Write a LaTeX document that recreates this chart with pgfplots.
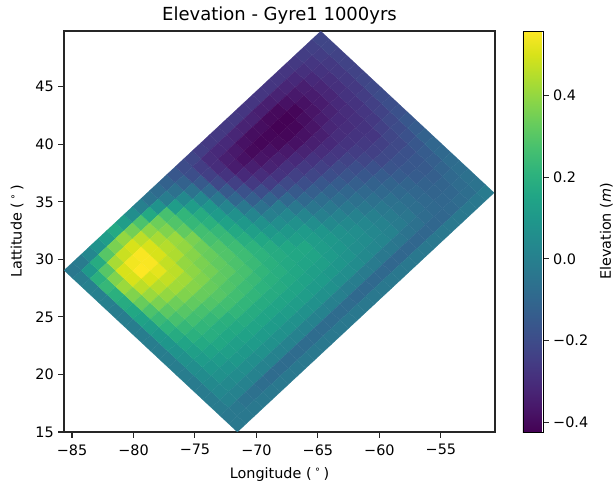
\documentclass[border=0pt]{standalone}
\usepackage{pgfplots}
\pgfplotsset{compat=1.18}
\usepackage{pgfplotstable}
\usepackage{fontspec}
\setmainfont{DejaVu Sans}
\newcommand{\dg}{\hspace{2.6pt}{\fontsize{7.5}{7.5}\selectfont\raisebox{2pt}{°}}\hspace{2.6pt}}
\pgfplotstableread{
i j v
0 0 -.03
0 1 -.01
0 2 0
0 3 0
0 4 0
0 5 -.01
0 6 -.01
0 7 -.01
0 8 -.01
0 9 -.01
0 10 -.01
0 11 -.01
0 12 -.01
0 13 -.01
0 14 -.02
0 15 -.02
0 16 -.02
0 17 -.02
0 18 -.03
0 19 -.03
0 20 -.03
1 0 -.02
1 1 .1
1 2 .2
1 3 .23
1 4 .2
1 5 .18
1 6 .16
1 7 .14
1 8 .12
1 9 .1
1 10 .09
1 11 .08
1 12 .07
1 13 .06
1 14 .05
1 15 .04
1 16 .03
1 17 .01
1 18 -.03
1 19 -.03
1 20 -.03
2 0 .03
2 1 .18
2 2 .3
2 3 .37
2 4 .41
2 5 .37
2 6 .33
2 7 .28
2 8 .24
2 9 .21
2 10 .18
2 11 .15
2 12 .13
2 13 .11
2 14 .09
2 15 .07
2 16 .04
2 17 .01
2 18 -.05
2 19 -.03
2 20 -.03
3 0 .08
3 1 .3
3 2 .43
3 3 .5
3 4 .5
3 5 .46
3 6 .41
3 7 .36
3 8 .31
3 9 .27
3 10 .23
3 11 .2
3 12 .17
3 13 .14
3 14 .11
3 15 .08
3 16 .05
3 17 .01
3 18 -.06
3 19 -.03
3 20 -.03
4 0 .12
4 1 .36
4 2 .48
4 3 .54
4 4 .556
4 5 .5
4 6 .45
4 7 .4
4 8 .34
4 9 .3
4 10 .26
4 11 .22
4 12 .19
4 13 .16
4 14 .13
4 15 .1
4 16 .06
4 17 .01
4 18 -.07
4 19 -.03
4 20 -.03
5 0 .17
5 1 .4
5 2 .5
5 3 .55
5 4 .55
5 5 .52
5 6 .47
5 7 .42
5 8 .37
5 9 .32
5 10 .27
5 11 .23
5 12 .19
5 13 .16
5 14 .13
5 15 .1
5 16 .06
5 17 .01
5 18 -.08
5 19 -.03
5 20 -.03
6 0 .12
6 1 .35
6 2 .46
6 3 .5
6 4 .5
6 5 .47
6 6 .46
6 7 .42
6 8 .38
6 9 .33
6 10 .29
6 11 .25
6 12 .2
6 13 .17
6 14 .14
6 15 .11
6 16 .07
6 17 .01
6 18 -.08
6 19 -.03
6 20 -.03
7 0 .06
7 1 .28
7 2 .39
7 3 .43
7 4 .45
7 5 .44
7 6 .4
7 7 .39
7 8 .37
7 9 .33
7 10 .3
7 11 .26
7 12 .22
7 13 .18
7 14 .15
7 15 .11
7 16 .07
7 17 .01
7 18 -.08
7 19 -.03
7 20 -.03
8 0 0
8 1 .17
8 2 .34
8 3 .37
8 4 .41
8 5 .4
8 6 .38
8 7 .36
8 8 .35
8 9 .32
8 10 .29
8 11 .26
8 12 .22
8 13 .18
8 14 .15
8 15 .11
8 16 .07
8 17 .01
8 18 -.08
8 19 -.03
8 20 -.03
9 0 -.05
9 1 .08
9 2 .27
9 3 .29
9 4 .32
9 5 .36
9 6 .34
9 7 .33
9 8 .32
9 9 .31
9 10 .28
9 11 .25
9 12 .22
9 13 .18
9 14 .15
9 15 .11
9 16 .07
9 17 .01
9 18 -.08
9 19 -.03
9 20 -.03
10 0 -.08
10 1 -.01
10 2 .12
10 3 .22
10 4 .23
10 5 .26
10 6 .27
10 7 .29
10 8 .29
10 9 .28
10 10 .27
10 11 .24
10 12 .21
10 13 .18
10 14 .15
10 15 .12
10 16 .07
10 17 .01
10 18 -.08
10 19 -.03
10 20 -.03
11 0 -.12
11 1 -.06
11 2 .04
11 3 .12
11 4 .18
11 5 .2
11 6 .23
11 7 .24
11 8 .25
11 9 .25
11 10 .24
11 11 .22
11 12 .2
11 13 .18
11 14 .15
11 15 .12
11 16 .07
11 17 .01
11 18 -.08
11 19 -.03
11 20 -.03
12 0 -.16
12 1 -.12
12 2 -.05
12 3 .03
12 4 .09
12 5 .11
12 6 .14
12 7 .17
12 8 .19
12 9 .21
12 10 .21
12 11 .2
12 12 .19
12 13 .17
12 14 .15
12 15 .12
12 16 .07
12 17 .01
12 18 -.08
12 19 -.03
12 20 -.03
13 0 -.2
13 1 -.19
13 2 -.15
13 3 -.09
13 4 -.03
13 5 .02
13 6 .07
13 7 .1
13 8 .13
13 9 .16
13 10 .18
13 11 .18
13 12 .17
13 13 .16
13 14 .14
13 15 .11
13 16 .07
13 17 0
13 18 -.08
13 19 -.03
13 20 -.03
14 0 -.22
14 1 -.25
14 2 -.24
14 3 -.21
14 4 -.15
14 5 -.1
14 6 -.03
14 7 .02
14 8 .07
14 9 .1
14 10 .13
14 11 .16
14 12 .16
14 13 .15
14 14 .13
14 15 .11
14 16 .07
14 17 0
14 18 -.08
14 19 -.03
14 20 -.03
15 0 -.25
15 1 -.3
15 2 -.3
15 3 -.28
15 4 -.24
15 5 -.18
15 6 -.13
15 7 -.06
15 8 0
15 9 .06
15 10 .1
15 11 .13
15 12 .16
15 13 .15
15 14 .13
15 15 .1
15 16 .06
15 17 -.01
15 18 -.09
15 19 -.03
15 20 -.03
16 0 -.26
16 1 -.31
16 2 -.34
16 3 -.35
16 4 -.31
16 5 -.26
16 6 -.19
16 7 -.11
16 8 -.02
16 9 .03
16 10 .07
16 11 .11
16 12 .12
16 13 .12
16 14 .11
16 15 .09
16 16 .06
16 17 -.01
16 18 -.09
16 19 -.03
16 20 -.03
17 0 -.26
17 1 -.31
17 2 -.36
17 3 -.38
17 4 -.34
17 5 -.3
17 6 -.25
17 7 -.17
17 8 -.09
17 9 -.03
17 10 .02
17 11 .06
17 12 .09
17 13 .1
17 14 .09
17 15 .08
17 16 .05
17 17 -.02
17 18 -.09
17 19 -.03
17 20 -.03
18 0 -.26
18 1 -.32
18 2 -.38
18 3 -.4
18 4 -.37
18 5 -.33
18 6 -.28
18 7 -.21
18 8 -.15
18 9 -.09
18 10 -.04
18 11 0
18 12 .04
18 13 .07
18 14 .07
18 15 .06
18 16 .04
18 17 -.02
18 18 -.09
18 19 -.03
18 20 -.03
19 0 -.26
19 1 -.33
19 2 -.39
19 3 -.41
19 4 -.38
19 5 -.34
19 6 -.29
19 7 -.24
19 8 -.19
19 9 -.13
19 10 -.07
19 11 -.03
19 12 .01
19 13 .04
19 14 .06
19 15 .05
19 16 .03
19 17 -.03
19 18 -.1
19 19 -.03
19 20 -.03
20 0 -.27
20 1 -.33
20 2 -.39
20 3 -.41
20 4 -.4
20 5 -.36
20 6 -.31
20 7 -.26
20 8 -.22
20 9 -.16
20 10 -.11
20 11 -.07
20 12 -.03
20 13 .01
20 14 .03
20 15 .03
20 16 .02
20 17 -.03
20 18 -.1
20 19 -.03
20 20 -.03
21 0 -.27
21 1 -.34
21 2 -.4
21 3 -.42
21 4 -.41
21 5 -.38
21 6 -.33
21 7 -.28
21 8 -.24
21 9 -.19
21 10 -.14
21 11 -.1
21 12 -.06
21 13 -.03
21 14 0
21 15 .01
21 16 .01
21 17 -.04
21 18 -.1
21 19 -.03
21 20 -.03
22 0 -.27
22 1 -.34
22 2 -.4
22 3 -.42
22 4 -.41
22 5 -.38
22 6 -.34
22 7 -.3
22 8 -.26
22 9 -.21
22 10 -.17
22 11 -.13
22 12 -.09
22 13 -.06
22 14 -.03
22 15 -.02
22 16 -.02
22 17 -.05
22 18 -.1
22 19 -.03
22 20 -.03
23 0 -.27
23 1 -.33
23 2 -.38
23 3 -.41
23 4 -.39
23 5 -.37
23 6 -.34
23 7 -.31
23 8 -.27
23 9 -.23
23 10 -.19
23 11 -.16
23 12 -.12
23 13 -.09
23 14 -.06
23 15 -.05
23 16 -.04
23 17 -.06
23 18 -.1
23 19 -.03
23 20 -.03
24 0 -.27
24 1 -.32
24 2 -.36
24 3 -.38
24 4 -.37
24 5 -.35
24 6 -.32
24 7 -.3
24 8 -.28
24 9 -.25
24 10 -.22
24 11 -.18
24 12 -.14
24 13 -.11
24 14 -.09
24 15 -.07
24 16 -.07
24 17 -.08
24 18 -.1
24 19 -.03
24 20 -.03
25 0 -.27
25 1 -.31
25 2 -.34
25 3 -.35
25 4 -.35
25 5 -.33
25 6 -.31
25 7 -.3
25 8 -.28
25 9 -.26
25 10 -.24
25 11 -.21
25 12 -.17
25 13 -.14
25 14 -.11
25 15 -.1
25 16 -.09
25 17 -.09
25 18 -.1
25 19 -.03
25 20 -.03
26 0 -.26
26 1 -.29
26 2 -.31
26 3 -.32
26 4 -.32
26 5 -.31
26 6 -.3
26 7 -.29
26 8 -.28
26 9 -.27
26 10 -.24
26 11 -.21
26 12 -.18
26 13 -.16
26 14 -.14
26 15 -.12
26 16 -.11
26 17 -.1
26 18 -.09
26 19 -.03
26 20 -.03
27 0 -.25
27 1 -.27
27 2 -.28
27 3 -.29
27 4 -.29
27 5 -.28
27 6 -.28
27 7 -.27
27 8 -.26
27 9 -.24
27 10 -.22
27 11 -.21
27 12 -.18
27 13 -.16
27 14 -.15
27 15 -.13
27 16 -.11
27 17 -.1
27 18 -.08
27 19 -.03
27 20 -.03
28 0 -.24
28 1 -.25
28 2 -.26
28 3 -.26
28 4 -.26
28 5 -.26
28 6 -.25
28 7 -.24
28 8 -.23
28 9 -.21
28 10 -.2
28 11 -.18
28 12 -.16
28 13 -.14
28 14 -.13
28 15 -.11
28 16 -.09
28 17 -.08
28 18 -.07
28 19 -.03
28 20 -.03
29 0 -.22
29 1 -.22
29 2 -.23
29 3 -.23
29 4 -.23
29 5 -.22
29 6 -.21
29 7 -.2
29 8 -.19
29 9 -.18
29 10 -.16
29 11 -.14
29 12 -.12
29 13 -.1
29 14 -.09
29 15 -.08
29 16 -.07
29 17 -.06
29 18 -.05
29 19 -.02
29 20 -.02
30 0 -.22
30 1 -.22
30 2 -.23
30 3 -.23
30 4 -.23
30 5 -.22
30 6 -.21
30 7 -.2
30 8 -.19
30 9 -.18
30 10 -.16
30 11 -.14
30 12 -.12
30 13 -.1
30 14 -.09
30 15 -.08
30 16 -.07
30 17 -.06
30 18 -.05
30 19 -.02
30 20 -.02
}\elev
\begin{document}
\begin{tikzpicture}
\path[use as bounding box] (-48pt,-41.25pt) rectangle (411.75pt,324pt);
\begin{axis}[
  at={(0pt,0pt)}, anchor=south west,
  scale only axis, width=323.25pt, height=300.75pt,
  xmin=-85.65, xmax=-50.6, ymin=15, ymax=49.85,
  font=\fontsize{10.8}{13}\selectfont,
  title={Elevation - Gyre1 1000yrs},
  title style={font=\fontsize{13.5}{15}\selectfont, yshift=-4.5pt},
  xlabel={Longitude (\dg)},
  ylabel={Lattitude (\dg)},
  xlabel style={yshift=-2.5pt},
  ylabel style={yshift=2pt},
  xticklabel style={yshift=-1.5pt},
  xtick={-85,-80,-75,-70,-65,-60,-55},
  xticklabels={−85,−80,−75,−70,−65,−60,−55},
  ytick={15,20,25,30,35,40,45},
  yticklabels={15,20,25,30,35,40,45},
  tick align=outside, xtick pos=bottom, ytick pos=left,
  tick style={black!85, line width=0.8pt},
  major tick length=4.2pt,
  axis line style={black!85, line width=0.8pt},
  colormap/viridis,
  point meta=explicit,
  point meta min=-0.423, point meta max=0.557,
  colorbar,
  colorbar style={
    width=15pt, xshift=12pt,
    ytick={-0.4,-0.2,0,0.2,0.4},
    yticklabels={−0.4,−0.2,0.0,0.2,0.4},
    yticklabel style={font=\fontsize{10.8}{13}\selectfont},
    ytick pos=right, tick align=outside,
    ylabel={Elevation (\textit{m})},
    ylabel style={font=\fontsize{10.8}{13}\selectfont, yshift=-2pt},
    major tick length=4.2pt,
  },
]
\addplot[surf, shader=flat corner, draw=mapped color, line width=0.1pt,
  mesh/ordering=y varies, mesh/rows=21, mesh/cols=31]
  table[x expr=-85.65+0.696*\thisrow{i}+0.705*\thisrow{j},
        y expr=29.05+0.693*\thisrow{i}-0.7025*\thisrow{j}, meta=v] {\elev};
\end{axis}
\end{tikzpicture}
\end{document}
